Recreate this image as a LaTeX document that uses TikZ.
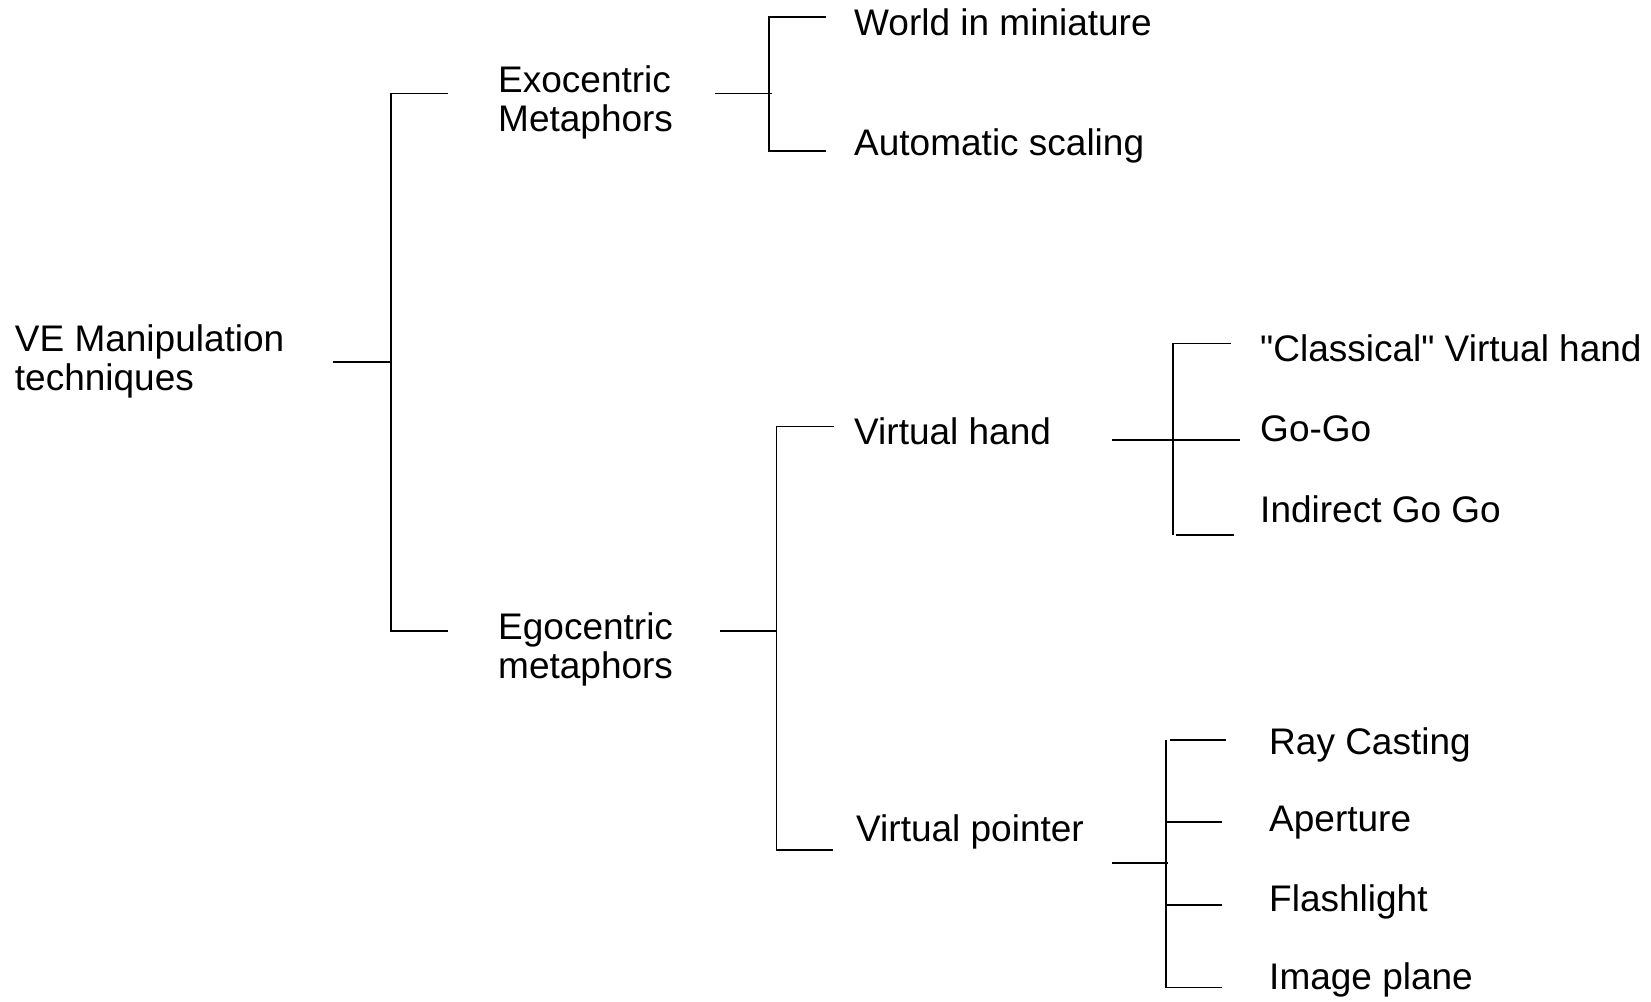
\documentclass[tikz,border=0pt]{standalone}
\usepackage{fontspec}
\setmainfont{Liberation Sans}[Ligatures=TeXOff]
\usetikzlibrary{positioning}

\begin{document}
\begin{tikzpicture}[
    x=1pt, y=-1pt,
    term/.style={
      anchor=base west,
      align=left,
      inner sep=0pt,
      font=\fontsize{37}{38.4}\selectfont
    },
    bracket/.style={
      line width=1.8pt,
      black
    }
  ]
  \useasboundingbox (0,0) rectangle (1651,1001);

  \node[term] (root) at (14.7,390) {VE Manipulation\\techniques};
  \node[term] (exo) at (498,131) {Exocentric\\Metaphors};
  \node[term] (ego) at (498,678) {Egocentric\\metaphors};
  \node[term] (wim) at (854,35.8) {World in miniature};
  \node[term] (autoscale) at (854,155.7) {Automatic scaling};
  \node[term] (vhand) at (854,444) {Virtual hand};
  \node[term] (vpointer) at (856,841.7) {Virtual pointer};
  \node[term] (classical) at (1260,361) {"Classical" Virtual hand};
  \node[term] (gogo) at (1260,441.7) {Go-Go};
  \node[term] (indirect) at (1260,522) {Indirect Go Go};
  \node[term] (raycast) at (1269,754.8) {Ray Casting};
  \node[term] (aperture) at (1269,831) {Aperture};
  \node[term] (flashlight) at (1269,911) {Flashlight};
  \node[term] (imageplane) at (1269,989.6) {Image plane};

  \coordinate (rootOut) at (332.7,362);
  \coordinate (rootJ) at (390.7,362);
  \coordinate (rootT) at (390.7,93.4);
  \coordinate (rootB) at (390.7,631.3);
  \coordinate (exoIn) at (448,93.4);
  \coordinate (egoIn) at (448,631.3);
  \draw[bracket] (rootOut) -- (rootJ);
  \draw[bracket] (exoIn) -- (rootT) -- (rootB) -- (egoIn);

  \coordinate (exoOut) at (715,93.4);
  \coordinate (exoJ) at (772,93.4);
  \coordinate (exoT) at (769,16.8);
  \coordinate (exoB) at (769,150.7);
  \coordinate (wimIn) at (826,16.8);
  \coordinate (autoIn) at (826,150.7);
  \draw[bracket] (exoOut) -- (exoJ);
  \draw[bracket] (wimIn) -- (exoT) -- (exoB) -- (autoIn);

  \coordinate (egoOut) at (719.6,631.3);
  \coordinate (egoJ) at (776.5,631.3);
  \coordinate (egoT) at (776.5,426.4);
  \coordinate (egoB) at (776.5,849.6);
  \coordinate (vhandIn) at (834,426.4);
  \coordinate (vpointerIn) at (833.4,849.6);
  \draw[bracket] (egoOut) -- (egoJ);
  \draw[bracket] (vhandIn) -- (egoT) -- (egoB) -- (vpointerIn);

  \coordinate (vhandOut) at (1112,439.7);
  \coordinate (gogoIn) at (1239.7,439.7);
  \coordinate (vhandT) at (1173,343.5);
  \coordinate (vhandB) at (1173,534.5);
  \coordinate (classicalIn) at (1230.6,343.5);
  \coordinate (indirectOut) at (1176,535);
  \coordinate (indirectIn) at (1233.7,535);
  \draw[bracket] (vhandOut) -- (gogoIn);
  \draw[bracket] (classicalIn) -- (vhandT) -- (vhandB);
  \draw[bracket] (indirectOut) -- (indirectIn);

  \coordinate (vpointerOut) at (1112,862.6);
  \coordinate (vpointerJ) at (1168,862.6);
  \coordinate (vpointerT) at (1166,739.6);
  \coordinate (vpointerB) at (1166,987.4);
  \coordinate (raycastOut) at (1170,739.6);
  \coordinate (raycastIn) at (1226,739.6);
  \coordinate (apertureOut) at (1166,822);
  \coordinate (apertureIn) at (1221.5,822);
  \coordinate (flashlightOut) at (1166,904.8);
  \coordinate (flashlightIn) at (1221.5,904.8);
  \coordinate (imageplaneIn) at (1221.5,987.4);
  \draw[bracket] (vpointerOut) -- (vpointerJ);
  \draw[bracket] (vpointerT) -- (vpointerB) -- (imageplaneIn);
  \draw[bracket] (raycastOut) -- (raycastIn);
  \draw[bracket] (apertureOut) -- (apertureIn);
  \draw[bracket] (flashlightOut) -- (flashlightIn);

\end{tikzpicture}
\end{document}
